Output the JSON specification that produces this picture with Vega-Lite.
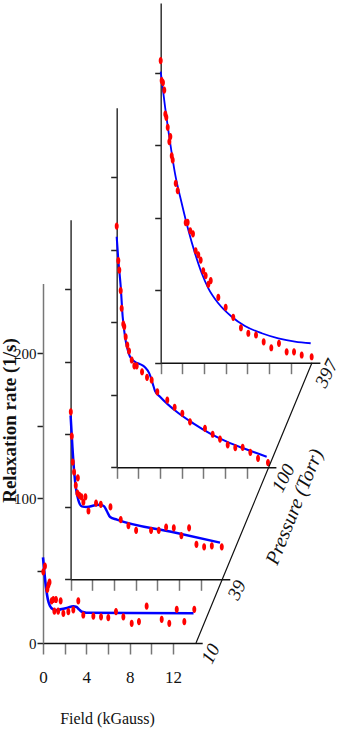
{
  "$schema": "https://vega.github.io/schema/vega-lite/v6.json",
  "width": 343,
  "height": 741,
  "autosize": "none",
  "padding": 0,
  "background": "white",
  "config": {
    "view": {"stroke": null},
    "axis": {
      "grid": false,
      "domainColor": "#222",
      "domainWidth": 1.5,
      "tickColor": "#222",
      "tickWidth": 1.5,
      "labelFont": "Liberation Serif",
      "titleFont": "Liberation Serif",
      "labelColor": "#111",
      "titleColor": "#111",
      "labelFlush": false,
      "labelOverlap": false
    }
  },
  "datasets": {
    "points": [
      {"pressure": 10, "field": 0.03, "rate": 49},
      {"pressure": 10, "field": 0.18, "rate": 53},
      {"pressure": 10, "field": 0.4, "rate": 37},
      {"pressure": 10, "field": 0.5, "rate": 40},
      {"pressure": 10, "field": 0.6, "rate": 42},
      {"pressure": 10, "field": 0.8, "rate": 29},
      {"pressure": 10, "field": 0.95, "rate": 30},
      {"pressure": 10, "field": 1.05, "rate": 22},
      {"pressure": 10, "field": 1.2, "rate": 30},
      {"pressure": 10, "field": 1.4, "rate": 22},
      {"pressure": 10, "field": 1.63, "rate": 29},
      {"pressure": 10, "field": 1.88, "rate": 20.5},
      {"pressure": 10, "field": 2.34, "rate": 21.6},
      {"pressure": 10, "field": 2.8, "rate": 22.8},
      {"pressure": 10, "field": 3.26, "rate": 29},
      {"pressure": 10, "field": 3.72, "rate": 19.3},
      {"pressure": 10, "field": 4.65, "rate": 18.6},
      {"pressure": 10, "field": 5.36, "rate": 18},
      {"pressure": 10, "field": 6.03, "rate": 17.5},
      {"pressure": 10, "field": 6.74, "rate": 21.6},
      {"pressure": 10, "field": 7.42, "rate": 18},
      {"pressure": 10, "field": 8.19, "rate": 13.6},
      {"pressure": 10, "field": 8.86, "rate": 14.7},
      {"pressure": 10, "field": 9.57, "rate": 25.5},
      {"pressure": 10, "field": 10.96, "rate": 16.3},
      {"pressure": 10, "field": 11.66, "rate": 13.6},
      {"pressure": 10, "field": 12.35, "rate": 23.2},
      {"pressure": 10, "field": 13.05, "rate": 14.7},
      {"pressure": 10, "field": 13.97, "rate": 23.2},
      {"pressure": 39, "field": 0.02, "rate": 115.4},
      {"pressure": 39, "field": 0.11, "rate": 98.8},
      {"pressure": 39, "field": 0.2, "rate": 80.9},
      {"pressure": 39, "field": 0.32, "rate": 74},
      {"pressure": 39, "field": 0.67, "rate": 69.9},
      {"pressure": 39, "field": 0.48, "rate": 64.8},
      {"pressure": 39, "field": 0.63, "rate": 59.5},
      {"pressure": 39, "field": 0.81, "rate": 57.9},
      {"pressure": 39, "field": 1.0, "rate": 56.8},
      {"pressure": 39, "field": 1.18, "rate": 53.3},
      {"pressure": 39, "field": 1.37, "rate": 56.8},
      {"pressure": 39, "field": 1.65, "rate": 47.1},
      {"pressure": 39, "field": 2.35, "rate": 52.6},
      {"pressure": 39, "field": 2.79, "rate": 51.7},
      {"pressure": 39, "field": 3.68, "rate": 49.9},
      {"pressure": 39, "field": 4.63, "rate": 41.2},
      {"pressure": 39, "field": 5.34, "rate": 37},
      {"pressure": 39, "field": 6.05, "rate": 33.8},
      {"pressure": 39, "field": 7.43, "rate": 33.8},
      {"pressure": 39, "field": 8.14, "rate": 33.8},
      {"pressure": 39, "field": 8.82, "rate": 36},
      {"pressure": 39, "field": 9.53, "rate": 35.4},
      {"pressure": 39, "field": 10.23, "rate": 30.1},
      {"pressure": 39, "field": 10.94, "rate": 35.4},
      {"pressure": 39, "field": 11.62, "rate": 24.1},
      {"pressure": 39, "field": 12.33, "rate": 22.3},
      {"pressure": 39, "field": 13.04, "rate": 23},
      {"pressure": 39, "field": 13.96, "rate": 22.3},
      {"pressure": 100, "field": 0.0, "rate": 166.4},
      {"pressure": 100, "field": 0.15, "rate": 142.5},
      {"pressure": 100, "field": 0.24, "rate": 136},
      {"pressure": 100, "field": 0.37, "rate": 121.8},
      {"pressure": 100, "field": 0.46, "rate": 109.7},
      {"pressure": 100, "field": 0.61, "rate": 98.8},
      {"pressure": 100, "field": 0.7, "rate": 97},
      {"pressure": 100, "field": 0.83, "rate": 90},
      {"pressure": 100, "field": 0.98, "rate": 84.3},
      {"pressure": 100, "field": 1.14, "rate": 80.2},
      {"pressure": 100, "field": 1.39, "rate": 74},
      {"pressure": 100, "field": 1.63, "rate": 69.9},
      {"pressure": 100, "field": 1.85, "rate": 69.9},
      {"pressure": 100, "field": 2.34, "rate": 65.9},
      {"pressure": 100, "field": 2.8, "rate": 62},
      {"pressure": 100, "field": 3.23, "rate": 60.2},
      {"pressure": 100, "field": 3.75, "rate": 52.1},
      {"pressure": 100, "field": 4.67, "rate": 46.4},
      {"pressure": 100, "field": 5.35, "rate": 41.4},
      {"pressure": 100, "field": 6.06, "rate": 37.2},
      {"pressure": 100, "field": 6.77, "rate": 31.4},
      {"pressure": 100, "field": 8.15, "rate": 26.9},
      {"pressure": 100, "field": 8.86, "rate": 22.8},
      {"pressure": 100, "field": 9.54, "rate": 19.5},
      {"pressure": 100, "field": 10.25, "rate": 15.4},
      {"pressure": 100, "field": 10.95, "rate": 13.5},
      {"pressure": 100, "field": 11.63, "rate": 13.8},
      {"pressure": 100, "field": 12.34, "rate": 10.3},
      {"pressure": 100, "field": 13.05, "rate": 6.2},
      {"pressure": 100, "field": 13.97, "rate": 3.2},
      {"pressure": 397, "field": 0.0, "rate": 208.3},
      {"pressure": 397, "field": 0.09, "rate": 194.5},
      {"pressure": 397, "field": 0.21, "rate": 193.1},
      {"pressure": 397, "field": 0.33, "rate": 188},
      {"pressure": 397, "field": 0.43, "rate": 171.5},
      {"pressure": 397, "field": 0.52, "rate": 169.2},
      {"pressure": 397, "field": 0.65, "rate": 162.3},
      {"pressure": 397, "field": 0.8, "rate": 152.4},
      {"pressure": 397, "field": 0.89, "rate": 155.9},
      {"pressure": 397, "field": 1.02, "rate": 142.6},
      {"pressure": 397, "field": 1.11, "rate": 139.8},
      {"pressure": 397, "field": 1.39, "rate": 123.7},
      {"pressure": 397, "field": 1.57, "rate": 118.6},
      {"pressure": 397, "field": 2.31, "rate": 96.6},
      {"pressure": 397, "field": 2.49, "rate": 96.8},
      {"pressure": 397, "field": 2.73, "rate": 91},
      {"pressure": 397, "field": 2.98, "rate": 88.8},
      {"pressure": 397, "field": 3.23, "rate": 77.2},
      {"pressure": 397, "field": 3.47, "rate": 74.3},
      {"pressure": 397, "field": 3.69, "rate": 70.8},
      {"pressure": 397, "field": 3.93, "rate": 63.4},
      {"pressure": 397, "field": 4.15, "rate": 60},
      {"pressure": 397, "field": 4.4, "rate": 54},
      {"pressure": 397, "field": 4.62, "rate": 56.6},
      {"pressure": 397, "field": 5.32, "rate": 45.1},
      {"pressure": 397, "field": 6.0, "rate": 38.2},
      {"pressure": 397, "field": 6.7, "rate": 31.3},
      {"pressure": 397, "field": 7.41, "rate": 24.1},
      {"pressure": 397, "field": 8.09, "rate": 20.3},
      {"pressure": 397, "field": 8.8, "rate": 19.1},
      {"pressure": 397, "field": 9.51, "rate": 14.3},
      {"pressure": 397, "field": 10.21, "rate": 10.3},
      {"pressure": 397, "field": 10.92, "rate": 13.4},
      {"pressure": 397, "field": 11.63, "rate": 7.4},
      {"pressure": 397, "field": 12.31, "rate": 7.4},
      {"pressure": 397, "field": 13.02, "rate": 5.3},
      {"pressure": 397, "field": 13.94, "rate": 4.1}
    ],
    "fits": [
      {"pressure": 10, "field": 0, "rate": 59},
      {"pressure": 10, "field": 0.15, "rate": 47},
      {"pressure": 10, "field": 0.3, "rate": 37},
      {"pressure": 10, "field": 0.45, "rate": 30},
      {"pressure": 10, "field": 0.65, "rate": 25.5},
      {"pressure": 10, "field": 0.9, "rate": 23.3},
      {"pressure": 10, "field": 1.2, "rate": 22.6},
      {"pressure": 10, "field": 1.6, "rate": 23.2},
      {"pressure": 10, "field": 2.2, "rate": 24.2},
      {"pressure": 10, "field": 2.8, "rate": 25.3},
      {"pressure": 10, "field": 3.1, "rate": 24.8},
      {"pressure": 10, "field": 3.35, "rate": 23},
      {"pressure": 10, "field": 3.6, "rate": 21.5},
      {"pressure": 10, "field": 4.0, "rate": 20.9},
      {"pressure": 10, "field": 8, "rate": 20.7},
      {"pressure": 10, "field": 13.9, "rate": 20.5},
      {"pressure": 39, "field": 0, "rate": 113},
      {"pressure": 39, "field": 0.17, "rate": 91},
      {"pressure": 39, "field": 0.32, "rate": 75},
      {"pressure": 39, "field": 0.5, "rate": 62.5},
      {"pressure": 39, "field": 0.72, "rate": 54.5},
      {"pressure": 39, "field": 1.03, "rate": 50.3},
      {"pressure": 39, "field": 1.5, "rate": 49.9},
      {"pressure": 39, "field": 2.26, "rate": 51},
      {"pressure": 39, "field": 2.72, "rate": 51.5},
      {"pressure": 39, "field": 3.1, "rate": 50.3},
      {"pressure": 39, "field": 3.34, "rate": 47.1},
      {"pressure": 39, "field": 3.65, "rate": 43},
      {"pressure": 39, "field": 4.27, "rate": 41.2},
      {"pressure": 39, "field": 9.5, "rate": 32.4},
      {"pressure": 39, "field": 13.8, "rate": 25.3},
      {"pressure": 100, "field": 0, "rate": 159},
      {"pressure": 100, "field": 0.15, "rate": 143},
      {"pressure": 100, "field": 0.37, "rate": 124.6},
      {"pressure": 100, "field": 0.55, "rate": 104},
      {"pressure": 100, "field": 0.77, "rate": 90},
      {"pressure": 100, "field": 0.98, "rate": 82},
      {"pressure": 100, "field": 1.23, "rate": 76.3},
      {"pressure": 100, "field": 1.69, "rate": 72.8},
      {"pressure": 100, "field": 2.15, "rate": 71.2},
      {"pressure": 100, "field": 2.61, "rate": 69},
      {"pressure": 100, "field": 3.01, "rate": 64.8},
      {"pressure": 100, "field": 3.32, "rate": 57.9},
      {"pressure": 100, "field": 3.54, "rate": 52.6},
      {"pressure": 100, "field": 4.0, "rate": 48.7},
      {"pressure": 100, "field": 5.54, "rate": 38.3},
      {"pressure": 100, "field": 7.07, "rate": 30.3},
      {"pressure": 100, "field": 8.6, "rate": 23.4},
      {"pressure": 100, "field": 10.16, "rate": 17.7},
      {"pressure": 100, "field": 11.7, "rate": 13.1},
      {"pressure": 100, "field": 13.85, "rate": 7.3},
      {"pressure": 397, "field": 0, "rate": 200.7},
      {"pressure": 397, "field": 0.4, "rate": 176.6},
      {"pressure": 397, "field": 0.86, "rate": 152.4},
      {"pressure": 397, "field": 1.32, "rate": 130.6},
      {"pressure": 397, "field": 1.94, "rate": 110},
      {"pressure": 397, "field": 2.55, "rate": 91.5},
      {"pressure": 397, "field": 3.17, "rate": 75.4},
      {"pressure": 397, "field": 3.79, "rate": 61.7},
      {"pressure": 397, "field": 4.4, "rate": 51.3},
      {"pressure": 397, "field": 5.32, "rate": 41},
      {"pressure": 397, "field": 6.56, "rate": 31.7},
      {"pressure": 397, "field": 7.78, "rate": 25.3},
      {"pressure": 397, "field": 9.33, "rate": 20.3},
      {"pressure": 397, "field": 10.86, "rate": 16.8},
      {"pressure": 397, "field": 12.4, "rate": 14.5},
      {"pressure": 397, "field": 13.85, "rate": 13.4}
    ],
    "pressure": [
      {"p": 10, "label": "10"},
      {"p": 39, "label": "39"},
      {"p": 100, "label": "100"},
      {"p": 397, "label": "397"}
    ]
  },
  "layer": [
    {
      "layer": [
        {
          "data": {"name": "fits"},
          "transform": [{"filter": "datum.pressure == 10"}],
          "mark": {"type": "line", "color": "#0000ff", "strokeWidth": 2.6, "interpolate": "monotone"},
          "encoding": {
            "x": {"field": "field", "type": "quantitative", "scale": {"domain": [0, 14.7], "range": [43, 202.2], "nice": false, "zero": false},
              "axis": {"orient": "bottom", "offset": -98, "values": [0, 2, 4, 6, 8, 10, 12], "labelExpr": "datum.value % 4 === 0 ? datum.label : ''", "tickSize": 11, "tickColor": "#777", "domainColor": "#111", "labelPadding": 23, "labelBaseline": "middle", "labelFontSize": 17, "title": "Field (kGauss)", "titleFontSize": 16, "titleFontWeight": "normal", "titleX": 107, "titleY": 75, "titleAlign": "center", "titleBaseline": "middle"}},
            "y": {"field": "rate", "type": "quantitative", "scale": {"domain": [0, 248], "range": [643, 283.4], "nice": false, "zero": false},
              "axis": {"orient": "left", "offset": -43, "values": [0, 50, 100, 150, 200], "labelExpr": "datum.value % 100 === 0 ? datum.label : ''", "tickSize": 6, "domainColor": "#777", "labelPadding": 1, "labelFontSize": 15, "labelBaseline": "middle", "title": "Relaxation rate (1/s)", "titleFont": "Liberation Serif", "titleFontSize": 19, "titleFontWeight": "bold", "titleAngle": -90, "titleX": -34, "titleY": 420, "titleAlign": "center", "titleBaseline": "middle"}}
          }
        },
        {
          "data": {"name": "points"},
          "transform": [{"filter": "datum.pressure == 10"}],
          "mark": {"type": "point", "shape": "M0,-1 C0.73,-1 0.73,1 0,1 C-0.73,1 -0.73,-1 0,-1 Z", "filled": true, "color": "#ff0000", "opacity": 1, "size": 52},
          "encoding": {
            "x": {"field": "field", "type": "quantitative", "scale": {"domain": [0, 14.7], "range": [43, 202.2], "nice": false, "zero": false}},
            "y": {"field": "rate", "type": "quantitative", "scale": {"domain": [0, 248], "range": [643, 283.4], "nice": false, "zero": false}}
          }
        }
      ]
    },
    {
      "layer": [
        {
          "data": {"name": "fits"},
          "transform": [{"filter": "datum.pressure == 39"}],
          "mark": {"type": "line", "color": "#0000ff", "strokeWidth": 2.5, "interpolate": "monotone"},
          "encoding": {
            "x": {"field": "field", "type": "quantitative", "scale": {"domain": [0, 14.7], "range": [70.6, 229.8], "nice": false, "zero": false},
              "axis": {"orient": "bottom", "offset": -161.7, "values": [0, 2, 4, 6, 8, 10, 12], "labels": false, "tickSize": 11, "tickColor": "#777", "domainColor": "#111", "title": null}},
            "y": {"field": "rate", "type": "quantitative", "scale": {"domain": [0, 248], "range": [579.3, 219.7], "nice": false, "zero": false},
              "axis": {"orient": "left", "offset": -70.6, "values": [0, 50, 100, 150, 200], "labels": false, "tickSize": 6, "domainColor": "#333", "title": null}}
          }
        },
        {
          "data": {"name": "points"},
          "transform": [{"filter": "datum.pressure == 39"}],
          "mark": {"type": "point", "shape": "M0,-1 C0.73,-1 0.73,1 0,1 C-0.73,1 -0.73,-1 0,-1 Z", "filled": true, "color": "#ff0000", "opacity": 1, "size": 52},
          "encoding": {
            "x": {"field": "field", "type": "quantitative", "scale": {"domain": [0, 14.7], "range": [70.6, 229.8], "nice": false, "zero": false}},
            "y": {"field": "rate", "type": "quantitative", "scale": {"domain": [0, 248], "range": [579.3, 219.7], "nice": false, "zero": false}}
          }
        }
      ]
    },
    {
      "layer": [
        {
          "data": {"name": "fits"},
          "transform": [{"filter": "datum.pressure == 100"}],
          "mark": {"type": "line", "color": "#0000ff", "strokeWidth": 2.1, "interpolate": "monotone"},
          "encoding": {
            "x": {"field": "field", "type": "quantitative", "scale": {"domain": [0, 14.7], "range": [116.7, 275.9], "nice": false, "zero": false},
              "axis": {"orient": "bottom", "offset": -273.7, "values": [0, 2, 4, 6, 8, 10, 12], "labels": false, "tickSize": 11, "tickColor": "#777", "domainColor": "#111", "title": null}},
            "y": {"field": "rate", "type": "quantitative", "scale": {"domain": [0, 248], "range": [467.3, 107.7], "nice": false, "zero": false},
              "axis": {"orient": "left", "offset": -116.7, "values": [0, 50, 100, 150, 200], "labels": false, "tickSize": 6, "domainColor": "#333", "title": null}}
          }
        },
        {
          "data": {"name": "points"},
          "transform": [{"filter": "datum.pressure == 100"}],
          "mark": {"type": "point", "shape": "M0,-1 C0.73,-1 0.73,1 0,1 C-0.73,1 -0.73,-1 0,-1 Z", "filled": true, "color": "#ff0000", "opacity": 1, "size": 52},
          "encoding": {
            "x": {"field": "field", "type": "quantitative", "scale": {"domain": [0, 14.7], "range": [116.7, 275.9], "nice": false, "zero": false}},
            "y": {"field": "rate", "type": "quantitative", "scale": {"domain": [0, 248], "range": [467.3, 107.7], "nice": false, "zero": false}}
          }
        }
      ]
    },
    {
      "layer": [
        {
          "data": {"name": "fits"},
          "transform": [{"filter": "datum.pressure == 397"}],
          "mark": {"type": "line", "color": "#0000ff", "strokeWidth": 1.8, "interpolate": "monotone"},
          "encoding": {
            "x": {"field": "field", "type": "quantitative", "scale": {"domain": [0, 14.7], "range": [160.7, 319.9], "nice": false, "zero": false},
              "axis": {"orient": "bottom", "offset": -378.3, "values": [0, 2, 4, 6, 8, 10, 12], "labels": false, "tickSize": 11, "tickColor": "#777", "domainColor": "#111", "title": null}},
            "y": {"field": "rate", "type": "quantitative", "scale": {"domain": [0, 248], "range": [362.7, 3.1], "nice": false, "zero": false},
              "axis": {"orient": "left", "offset": -160.7, "values": [0, 50, 100, 150, 200], "labels": false, "tickSize": 6, "domainColor": "#333", "title": null}}
          }
        },
        {
          "data": {"name": "points"},
          "transform": [{"filter": "datum.pressure == 397"}],
          "mark": {"type": "point", "shape": "M0,-1 C0.73,-1 0.73,1 0,1 C-0.73,1 -0.73,-1 0,-1 Z", "filled": true, "color": "#ff0000", "opacity": 1, "size": 52},
          "encoding": {
            "x": {"field": "field", "type": "quantitative", "scale": {"domain": [0, 14.7], "range": [160.7, 319.9], "nice": false, "zero": false}},
            "y": {"field": "rate", "type": "quantitative", "scale": {"domain": [0, 248], "range": [362.7, 3.1], "nice": false, "zero": false}}
          }
        }
      ]
    },
    {
      "layer": [
        {
          "data": {"name": "pressure"},
          "mark": {"type": "line", "color": "#111", "strokeWidth": 1.2},
          "encoding": {
            "x": {"field": "p", "type": "quantitative", "scale": {"type": "linear", "domain": [10, 39, 100, 397], "range": [196, 222.3, 268.7, 312], "nice": false, "zero": false}, "axis": null},
            "y": {"field": "p", "type": "quantitative", "scale": {"type": "linear", "domain": [10, 39, 100, 397], "range": [643, 579.3, 467.3, 362.7], "nice": false, "zero": false}, "axis": null}
          }
        },
        {
          "data": {"name": "pressure"},
          "mark": {"type": "text", "angle": -63, "dx": -3, "dy": 18, "align": "center", "baseline": "middle", "font": "Liberation Serif", "fontStyle": "italic", "fontSize": 19, "color": "#111"},
          "encoding": {
            "x": {"field": "p", "type": "quantitative", "scale": {"type": "linear", "domain": [10, 39, 100, 397], "range": [196, 222.3, 268.7, 312], "nice": false, "zero": false}, "axis": null},
            "y": {"field": "p", "type": "quantitative", "scale": {"type": "linear", "domain": [10, 39, 100, 397], "range": [643, 579.3, 467.3, 362.7], "nice": false, "zero": false}, "axis": null},
            "text": {"field": "label", "type": "nominal"}
          }
        },
        {
          "data": {"values": [{"title": "Pressure (Torr)"}]},
          "mark": {"type": "text", "angle": -68, "dx": -27, "dy": 39, "align": "center", "baseline": "middle", "font": "Liberation Serif", "fontStyle": "italic", "fontSize": 20, "color": "#111"},
          "encoding": {
            "x": {"datum": 100, "type": "quantitative", "scale": {"type": "linear", "domain": [10, 39, 100, 397], "range": [196, 222.3, 268.7, 312], "nice": false, "zero": false}, "axis": null},
            "y": {"datum": 100, "type": "quantitative", "scale": {"type": "linear", "domain": [10, 39, 100, 397], "range": [643, 579.3, 467.3, 362.7], "nice": false, "zero": false}, "axis": null},
            "text": {"field": "title", "type": "nominal"}
          }
        }
      ]
    }
  ],
  "resolve": {"scale": {"x": "independent", "y": "independent"}, "axis": {"x": "independent", "y": "independent"}}
}
